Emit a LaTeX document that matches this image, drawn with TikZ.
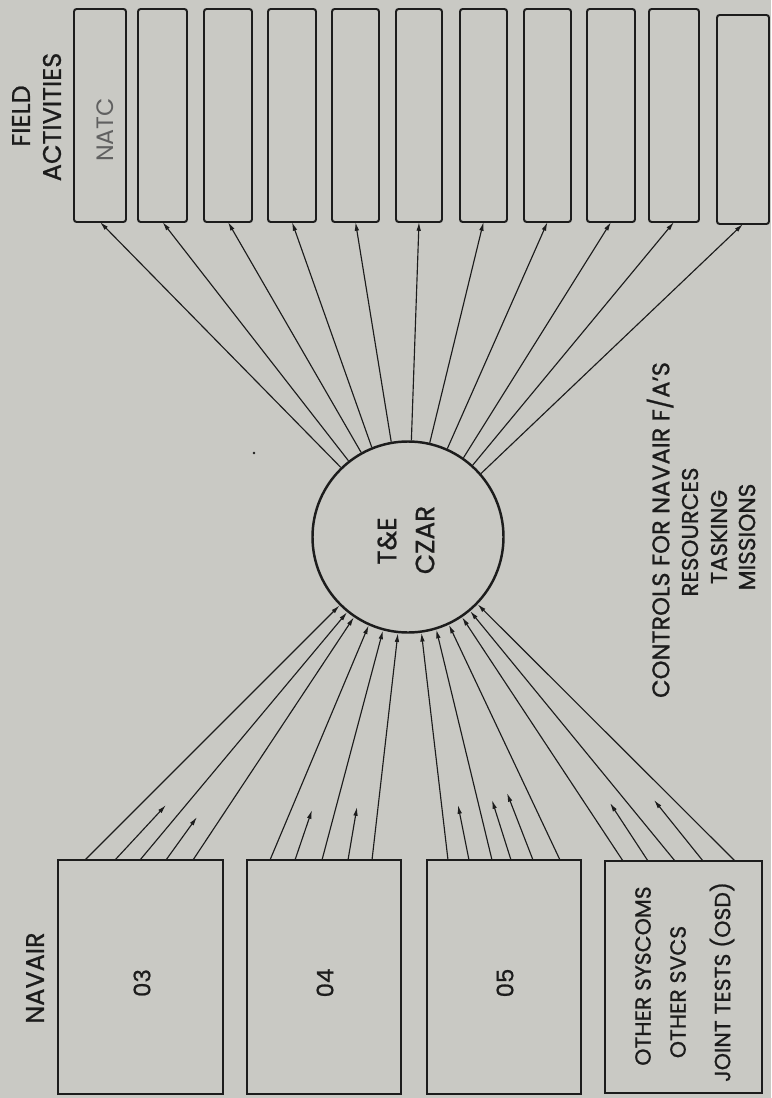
\documentclass[tikz,border=0pt]{standalone}
\usepackage{fontspec}
\setmainfont{Poppins}[FakeBold=0.9]
\newfontfamily\handfont{Poppins}
\usetikzlibrary{arrows.meta}
\definecolor{bgc}{RGB}{201,201,196}
\definecolor{ink}{RGB}{28,28,28}
\begin{document}
\begin{tikzpicture}[x=0.02cm,y=-0.02cm,
  box/.style={draw=ink, line width=1.1pt, inner sep=0pt, outer sep=0pt},
  fa/.style={box, rounded corners=1.5pt},
  arr/.style={draw=ink, line width=0.65pt, -{Latex[length=5pt,width=2.6pt]}},
  lbl/.style={rotate=90, text=ink, inner sep=0pt},
]
\fill[bgc] (0,0) rectangle (771,1098);
\useasboundingbox (0,0) rectangle (771,1098);

% field activity boxes
\foreach \i/\cx/\w in {1/100/52,2/162.5/49,3/228/48,4/292/48,5/355.5/47,6/419/46,7/483.5/47,8/547.5/47,9/611/48,10/674/50}
  \node[fa, minimum width=\w*0.02cm, minimum height=213*0.02cm] (f\i) at (\cx,115.5) {};
\node[fa, minimum width=52*0.02cm, minimum height=209*0.02cm] (f11) at (743,119.5) {};

% NAVAIR boxes
\node[box, minimum width=165*0.02cm, minimum height=234*0.02cm] (b03) at (140.5,977) {};
\node[box, minimum width=154*0.02cm, minimum height=234*0.02cm] (b04) at (324,977) {};
\node[box, minimum width=154*0.02cm, minimum height=234*0.02cm] (b05) at (504,977) {};
\node[box, minimum width=157*0.02cm, minimum height=232*0.02cm] (bot) at (683.5,977) {};

% T&E CZAR circle
\node[circle, draw=ink, line width=1.4pt, inner sep=0pt, minimum size=191*0.02cm] (czar) at (408,537) {};

% connectors to field activities
\foreach \i/\a in {1/134,2/128,3/119,4/112,5/100,6/88,7/77,8/66,9/55,10/48,11/41}
  \draw[arr] (czar.\a) -- (f\i.south);

% long connectors from NAVAIR boxes to the circle
\foreach \x/\b/\a in {85/b03/225,140/b03/231,193/b03/236,
                      270/b04/246,322/b04/255,372/b04/264,
                      448/b05/278,492/b05/287,560/b05/295,
                      623/bot/304,675/bot/310,735/bot/316}
  \draw[arr] (\x,0 |- \b.north) -- (czar.\a);

% short direction arrows
\coordinate (s1) at (166,805);
\coordinate (s2) at (197,817);
\coordinate (s3) at (312,810);
\coordinate (s4) at (357,807);
\coordinate (s5) at (458,805);
\coordinate (s6) at (492,800);
\coordinate (s7) at (507,793);
\coordinate (s8) at (610,803);
\coordinate (s9) at (654,800);
\foreach \x/\b/\s in {115/b03/s1,166/b03/s2,295/b04/s3,348/b04/s4,
                      469/b05/s5,511/b05/s6,533/b05/s7,648/bot/s8,703/bot/s9}
  \draw[arr] (\x,0 |- \b.north) -- (\s);

% speck
\fill[ink] (254,453) circle (1.3);

% labels
\node[lbl, font=\fontsize{14.5}{17}\selectfont] (navair) at (35,978) {NAVAIR};
\node[lbl, font=\fontsize{13}{15}\selectfont] (l03) at (142,983) {03};
\node[lbl, font=\fontsize{13}{15}\selectfont] (l04) at (325,983) {04};
\node[lbl, font=\fontsize{13}{15}\selectfont] (l05) at (505,983) {05};
\node[lbl, font=\fontsize{12.5}{15}\selectfont] (lo1) at (643,976) {OTHER SYSCOMS};
\node[lbl, font=\fontsize{12.5}{15}\selectfont] (lo2) at (678,992) {OTHER SVCS};
\node[lbl, font=\fontsize{12.5}{15}\selectfont] (lo3) at (722,982) {JOINT TESTS (OSD)};
\node[lbl, font=\fontsize{15}{18}\selectfont] (lte) at (387,541) {T\&E};
\node[lbl, font=\fontsize{15}{18}\selectfont] (lcz) at (425,540) {CZAR};
\node[lbl, font=\fontsize{13.7}{15}\selectfont] (lc1) at (660,530) {CONTROLS FOR NAVAIR F/A'S};
\node[lbl, font=\fontsize{13}{15}\selectfont] (lc2) at (690,532) {RESOURCES};
\node[lbl, font=\fontsize{13}{15}\selectfont] (lc3) at (719,537) {TASKING};
\node[lbl, font=\fontsize{13.2}{15}\selectfont] (lc4) at (747,537) {MISSIONS};
\node[lbl, font=\fontsize{14.5}{15}\selectfont] (lf1) at (21,116) {FIELD};
\node[lbl, font=\fontsize{14.5}{15}\selectfont] (lf2) at (52,117) {ACTIVITIES};
\node[lbl, font=\handfont\fontsize{13.5}{15}\selectfont, text=ink!70] (natc) at (105,130) {NATC};
\end{tikzpicture}
\end{document}
